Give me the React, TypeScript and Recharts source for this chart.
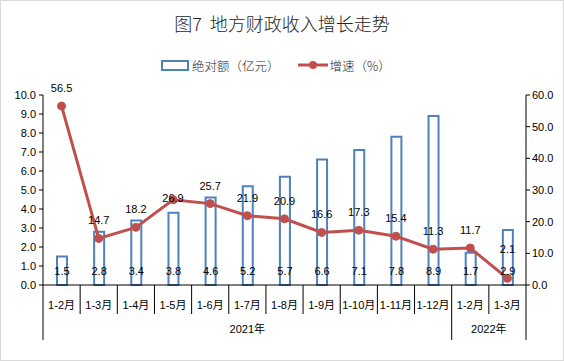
import React from "react";
import { ComposedChart, Bar, Line, XAxis, YAxis, LabelList } from "recharts";

const months = ["1-2月", "1-3月", "1-4月", "1-5月", "1-6月", "1-7月", "1-8月", "1-9月", "1-10月", "1-11月", "1-12月", "1-2月", "1-3月"];
const years = ["2021年", "2021年", "2021年", "2021年", "2021年", "2021年", "2021年", "2021年", "2021年", "2021年", "2021年", "2022年", "2022年"];
const amount = [1.5, 2.8, 3.4, 3.8, 4.6, 5.2, 5.7, 6.6, 7.1, 7.8, 8.9, 1.7, 2.9];
const growth = [56.5, 14.7, 18.2, 26.9, 25.7, 21.9, 20.9, 16.6, 17.3, 15.4, 11.3, 11.7, 2.1];
const leftTicks = [0, 1, 2, 3, 4, 5, 6, 7, 8, 9, 10];
const rightTicks = [0, 10, 20, 30, 40, 50, 60];

const data = months.map((m, i) => ({ key: `${years[i]}${m}`, amount: amount[i], growth: growth[i] }));

const W = 564;
const H = 361;
const M = { top: 95, right: 0, bottom: 20, left: 0 };
const LEFT_W = 43;
const RIGHT_W = 38;
const BAND = (W - LEFT_W - RIGHT_W) / months.length;
const FONT = "'Liberation Sans', 'Noto Sans CJK SC', sans-serif";
const CJK = "'Noto Sans CJK SC', sans-serif";
const BLUE = "#4F81BD";
const RED = "#C0504D";

// label offsets above the point, as Excel placed them
const labelLift = (i: number) => (i === 3 ? -2 : i === growth.length - 1 ? 25 : 14);

function CatTick(props: any) {
  const { x, y, index } = props;
  const left = x - BAND / 2;
  const start = index === 0 || years[index] !== years[index - 1];
  const last = index === months.length - 1;
  let yearLabel = null;
  if (start) {
    let n = 0;
    while (years[index + n] === years[index]) n++;
    yearLabel = (
      <text x={left + (n * BAND) / 2} y={y + 48} textAnchor="middle" fontSize={11} fill="#000" fontFamily={FONT}>
        {years[index]}
      </text>
    );
  }
  return (
    <g>
      <line x1={left} x2={left} y1={y} y2={start ? y + 55 : y + 29} stroke="#000" />
      {last && <line x1={left + BAND} x2={left + BAND} y1={y} y2={y + 55} stroke="#000" />}
      <text x={x} y={y + 24} textAnchor="middle" fontSize={11} fill="#000" fontFamily={FONT}>
        {months[index]}
      </text>
      {yearLabel}
    </g>
  );
}

function GrowthLabel(props: any) {
  const { x, y, value, index } = props;
  return (
    <text x={x} y={y - labelLift(index)} textAnchor="middle" fontSize={11} fill="#000" fontFamily={FONT}>
      {Number(value).toFixed(1)}
    </text>
  );
}

function AmountLabel(props: any) {
  const { x, y, width, height, value } = props;
  return (
    <text x={x + width / 2} y={y + height - 10} textAnchor="middle" fontSize={11} fill="#000" fontFamily={FONT}>
      {Number(value).toFixed(1)}
    </text>
  );
}

export default function App() {
  const tickStyle = { fill: "#000", fontSize: 11, fontFamily: FONT };
  return (
    <div style={{ position: "absolute", left: 0, top: 0, width: W, height: H, border: "1px solid #d9d9d9", boxSizing: "border-box", background: "#fff", overflow: "hidden" }}>
      <div style={{ position: "absolute", left: -1, top: -1, width: W, height: H }}>
        <div style={{ position: "absolute", top: 11, left: 0, width: W, textAlign: "center", fontFamily: CJK, fontSize: 18, fontWeight: 300, lineHeight: "24px", color: "#262626" }}>
          图7&nbsp;&nbsp;地方财政收入增长走势
        </div>
        <div style={{ position: "absolute", top: 55, left: 161, height: 20, display: "flex", alignItems: "center", fontFamily: CJK, fontSize: 12.5, fontWeight: 300, color: "#262626" }}>
          <span style={{ display: "inline-block", width: 24, height: 7, border: `2px solid ${BLUE}`, marginRight: 3 }} />
          <span>绝对额（亿元）</span>
          <svg width={30} height={10} style={{ marginLeft: 18, marginRight: 2 }}>
            <line x1={0} x2={30} y1={5} y2={5} stroke={RED} strokeWidth={3} />
            <circle cx={15} cy={5} r={4} fill={RED} />
          </svg>
          <span>增速（%）</span>
        </div>
        <ComposedChart width={W} height={H} data={data} margin={M}>
          <XAxis
            dataKey="key"
            xAxisId="x"
            height={56}
            tickLine={false}
            tickSize={0}
            tickMargin={0}
            axisLine={{ stroke: "#000" }}
            tick={<CatTick />}
            interval={0}
          />
          <YAxis
            yAxisId="l"
            width={LEFT_W}
            domain={[0, 10]}
            ticks={leftTicks}
            tickFormatter={(v) => Number(v).toFixed(1)}
            tick={tickStyle}
            tickSize={4}
            tickMargin={3}
            axisLine={{ stroke: "#000" }}
            tickLine={{ stroke: "#000" }}
            interval={0}
          />
          <YAxis
            yAxisId="r"
            orientation="right"
            width={RIGHT_W}
            domain={[0, 60]}
            ticks={rightTicks}
            tickFormatter={(v) => Number(v).toFixed(1)}
            tick={tickStyle}
            tickSize={4}
            tickMargin={2}
            axisLine={{ stroke: "#000" }}
            tickLine={{ stroke: "#000" }}
            interval={0}
          />
          <Bar xAxisId="x" yAxisId="l" dataKey="amount" barSize={10} fill="#fff" stroke={BLUE} strokeWidth={2} isAnimationActive={false}>
            <LabelList dataKey="amount" content={<AmountLabel />} />
          </Bar>
          <Line
            xAxisId="x"
            yAxisId="r"
            dataKey="growth"
            stroke={RED}
            strokeWidth={3}
            dot={{ r: 4, fill: RED, stroke: RED, strokeWidth: 1 }}
            isAnimationActive={false}
          >
            <LabelList dataKey="growth" content={<GrowthLabel />} />
          </Line>
        </ComposedChart>
      </div>
    </div>
  );
}
